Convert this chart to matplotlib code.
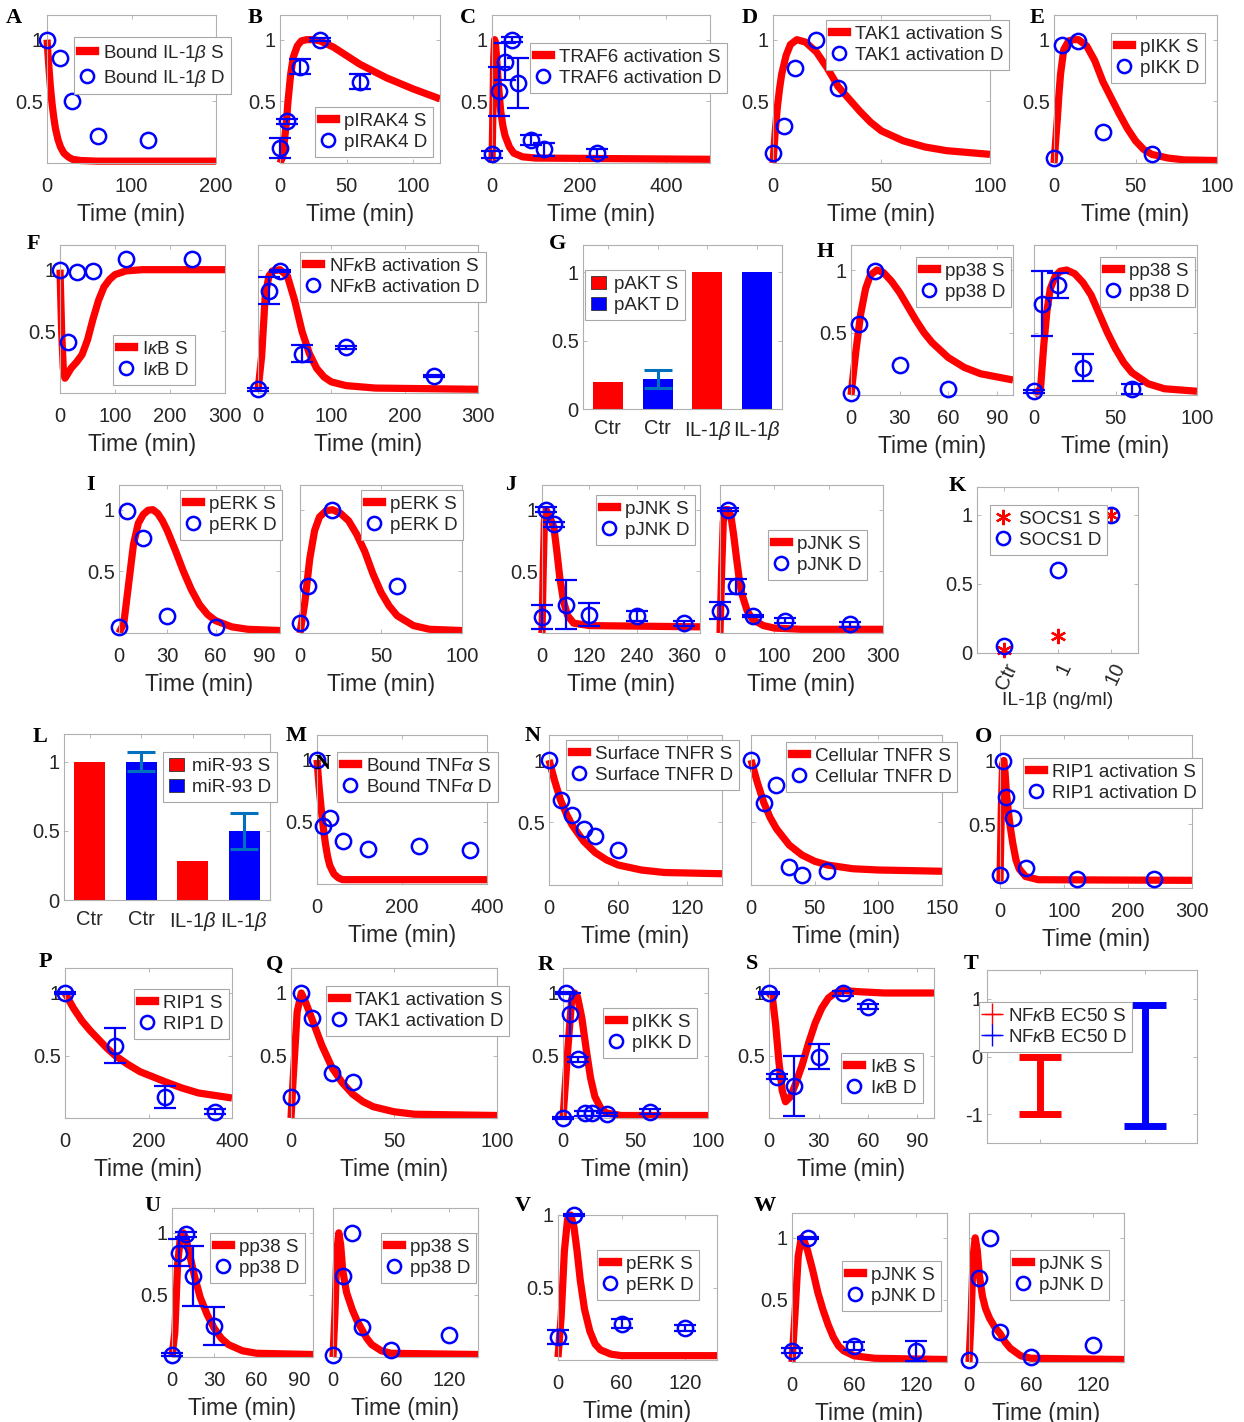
import matplotlib
matplotlib.use("Agg")
import matplotlib.pyplot as plt
from matplotlib.lines import Line2D
from matplotlib.patches import Patch

plt.rcParams['font.family'] = ['Liberation Sans', 'DejaVu Sans']
plt.rcParams['mathtext.fontset'] = 'custom'
plt.rcParams['mathtext.rm'] = 'Liberation Sans'
plt.rcParams['mathtext.it'] = 'Liberation Sans:italic'
plt.rcParams['mathtext.bf'] = 'Liberation Sans:bold'

# ---------------- data: simulations (S) and measurements (D) ----------------
# A  bound IL-1b
a_sim_t = [0, 2, 4, 6, 8, 10, 13, 16, 20, 25, 30, 40, 60, 100, 200]
a_sim_y = [1.0, 0.8, 0.62, 0.48, 0.37, 0.28, 0.19, 0.13, 0.08, 0.05, 0.03, 0.02, 0.015, 0.015, 0.015]
a_dat_t = [0, 15, 30, 60, 120]
a_dat_y = [1.0, 0.85, 0.5, 0.22, 0.19]
# B  pIRAK4
b_sim_t = [0, 2, 4, 5, 6, 8, 10, 13, 16, 20, 25, 30, 40, 50, 60, 80, 100, 120]
b_sim_y = [0.0, 0.05, 0.25, 0.36, 0.5, 0.72, 0.86, 0.95, 0.99, 1.0, 1.0, 0.99, 0.94, 0.87, 0.8, 0.69, 0.6, 0.52]
b_dat_t = [0, 5, 15, 30, 60]
b_dat_y = [0.12, 0.34, 0.78, 1.0, 0.66]
b_dat_e = [0.08, 0.02, 0.06, 0.01, 0.06]
# C  TRAF6 activation
c_sim_t = [0, 2, 4, 6, 8, 10, 15, 20, 25, 30, 40, 50, 70, 100, 500]
c_sim_y = [0.0, 0.4, 0.85, 1.0, 0.97, 0.88, 0.62, 0.42, 0.3, 0.22, 0.13, 0.08, 0.05, 0.04, 0.03]
c_dat_t = [0, 15, 30, 45, 60, 90, 120, 240]
c_dat_y = [0.07, 0.58, 0.82, 1.0, 0.65, 0.19, 0.11, 0.08]
c_dat_e = [0.03, 0.2, 0.15, 0.02, 0.2, 0.04, 0.05, 0.03]
# D  TAK1 activation (IL-1b)
d_sim_t = [0, 1, 2, 3, 4, 6, 8, 11, 15, 20, 25, 30, 35, 40, 45, 50, 60, 70, 80, 100]
d_sim_y = [0.0, 0.25, 0.45, 0.6, 0.72, 0.87, 0.96, 1.0, 0.98, 0.9, 0.77, 0.62, 0.52, 0.42, 0.33, 0.26, 0.18, 0.13, 0.1, 0.07]
d_dat_t = [0, 5, 10, 20, 30]
d_dat_y = [0.08, 0.3, 0.77, 1.0, 0.61]
# E  pIKK (IL-1b)
e_sim_t = [0, 2, 3, 4, 6, 9, 12, 15, 20, 25, 30, 35, 40, 45, 50, 55, 60, 70, 80, 100]
e_sim_y = [0.0, 0.35, 0.55, 0.72, 0.92, 0.99, 1.0, 1.0, 0.95, 0.83, 0.66, 0.53, 0.4, 0.28, 0.18, 0.11, 0.07, 0.04, 0.025, 0.02]
e_dat_t = [0, 5, 15, 30, 60]
e_dat_y = [0.04, 0.96, 0.99, 0.25, 0.07]
# F  IkB and NFkB activation
f1_sim_t = [0, 3, 6, 9, 12, 20, 30, 40, 50, 60, 70, 80, 90, 100, 120, 150, 300]
f1_sim_y = [1.0, 0.5, 0.2, 0.12, 0.14, 0.2, 0.25, 0.31, 0.43, 0.6, 0.75, 0.86, 0.92, 0.96, 0.99, 1.0, 1.0]
f1_dat_t = [0, 15, 30, 60, 120, 240]
f1_dat_y = [1.0, 0.41, 0.98, 0.99, 1.09, 1.09]
f2_sim_t = [0, 5, 10, 15, 20, 30, 40, 50, 60, 70, 80, 90, 100, 120, 160, 300]
f2_sim_y = [0.02, 0.3, 0.8, 0.95, 0.99, 1.0, 0.95, 0.75, 0.5, 0.32, 0.2, 0.13, 0.09, 0.06, 0.04, 0.03]
f2_dat_t = [0, 15, 30, 60, 120, 240]
f2_dat_y = [0.03, 0.83, 0.99, 0.32, 0.37, 0.14]
f2_dat_e = [0.01, 0.11, 0.01, 0.07, 0.01, 0.01]
# G  pAKT bars
g_labels = ['Ctr', 'Ctr', 'IL-1$\\beta$', 'IL-1$\\beta$']
g_vals = [0.2, 0.22, 1.0, 1.0]
g_err = [0.0, 0.065, 0.0, 0.0]
# H  pp38
h1_sim_t = [0, 3, 6, 9, 12, 16, 20, 25, 30, 35, 40, 45, 50, 60, 70, 80, 100]
h1_sim_y = [0.0, 0.35, 0.65, 0.85, 0.96, 1.0, 0.98, 0.91, 0.82, 0.71, 0.6, 0.5, 0.42, 0.3, 0.22, 0.17, 0.12]
h1_dat_t = [0, 5, 15, 30, 60]
h1_dat_y = [0.02, 0.57, 0.99, 0.24, 0.05]
h2_sim_t = [0, 4, 6, 8, 10, 13, 16, 20, 25, 30, 35, 40, 45, 50, 55, 60, 70, 80, 100]
h2_sim_y = [0.0, 0.05, 0.4, 0.68, 0.85, 0.95, 0.99, 1.0, 0.97, 0.9, 0.8, 0.65, 0.5, 0.37, 0.26, 0.18, 0.09, 0.05, 0.03]
h2_dat_t = [0, 5, 15, 30, 60]
h2_dat_y = [0.03, 0.73, 0.88, 0.22, 0.05]
h2_dat_e = [0.01, 0.26, 0.1, 0.11, 0.04]
# I  pERK
i1_sim_t = [0, 3, 6, 9, 12, 15, 18, 21, 24, 27, 30, 35, 40, 45, 50, 55, 60, 70, 80, 100]
i1_sim_y = [0.0, 0.08, 0.4, 0.72, 0.89, 0.96, 0.995, 1.0, 0.97, 0.91, 0.83, 0.67, 0.5, 0.35, 0.23, 0.15, 0.1, 0.05, 0.03, 0.02]
i1_dat_t = [0, 5, 15, 30, 60]
i1_dat_y = [0.05, 0.99, 0.77, 0.14, 0.05]
i2_sim_t = [0, 3, 6, 9, 12, 16, 20, 25, 30, 35, 40, 45, 50, 55, 60, 70, 80, 100]
i2_sim_y = [0.0, 0.25, 0.6, 0.83, 0.94, 0.99, 1.0, 0.97, 0.91, 0.8, 0.66, 0.48, 0.33, 0.22, 0.14, 0.06, 0.03, 0.02]
i2_dat_t = [0, 5, 20, 60]
i2_dat_y = [0.08, 0.38, 1.0, 0.38]
# J  pJNK
j1_sim_t = [0, 3, 6, 10, 15, 22, 30, 38, 45, 55, 65, 80, 120, 400]
j1_sim_y = [0.0, 0.5, 0.9, 1.0, 0.97, 0.92, 0.86, 0.65, 0.45, 0.25, 0.14, 0.08, 0.06, 0.05]
j1_dat_t = [0, 10, 30, 60, 120, 240, 360]
j1_dat_y = [0.13, 1.0, 0.88, 0.23, 0.15, 0.14, 0.08]
j1_dat_e = [0.1, 0.02, 0.02, 0.2, 0.09, 0.04, 0.02]
j2_sim_t = [0, 3, 6, 10, 15, 20, 25, 30, 35, 40, 50, 60, 80, 100, 150, 300]
j2_sim_y = [0.0, 0.5, 0.9, 1.0, 1.0, 0.95, 0.8, 0.62, 0.45, 0.32, 0.18, 0.11, 0.06, 0.04, 0.03, 0.03]
j2_dat_t = [0, 15, 30, 60, 120, 240]
j2_dat_y = [0.18, 1.0, 0.38, 0.14, 0.1, 0.07]
j2_dat_e = [0.07, 0.01, 0.06, 0.01, 0.02, 0.02]
# K  SOCS1 vs IL-1b dose
k_cats = ['Ctr', '1', '10']
k_sim = [0.02, 0.12, 1.0]
k_dat = [0.05, 0.6, 1.0]
# L  miR-93 bars
l_labels = ['Ctr', 'Ctr', 'IL-1$\\beta$', 'IL-1$\\beta$']
l_vals = [1.0, 1.0, 0.28, 0.5]
l_err = [0.0, 0.07, 0.0, 0.13]
# M  bound TNFa
m_sim_t = [0, 5, 10, 15, 20, 25, 30, 40, 50, 60, 400]
m_sim_y = [1.0, 0.78, 0.6, 0.45, 0.32, 0.22, 0.15, 0.08, 0.05, 0.035, 0.035]
m_dat_t = [0, 15, 30, 60, 120, 240, 360]
m_dat_y = [1.0, 0.47, 0.53, 0.35, 0.28, 0.31, 0.27]
# N  surface / cellular TNFR
n1_sim_t = [0, 5, 10, 15, 20, 30, 40, 50, 60, 80, 100, 150]
n1_sim_y = [1.0, 0.83, 0.68, 0.57, 0.48, 0.35, 0.26, 0.2, 0.16, 0.12, 0.1, 0.09]
n1_dat_t = [0, 10, 20, 30, 40, 60]
n1_dat_y = [1.0, 0.68, 0.56, 0.45, 0.39, 0.28]
n2_sim_t = [0, 5, 10, 15, 20, 30, 40, 50, 60, 80, 100, 150]
n2_sim_y = [1.0, 0.82, 0.66, 0.54, 0.45, 0.32, 0.24, 0.19, 0.16, 0.13, 0.12, 0.11]
n2_dat_t = [0, 10, 20, 30, 40, 60]
n2_dat_y = [1.0, 0.66, 0.8, 0.14, 0.08, 0.11]
# O  RIP1 activation
o_sim_t = [0, 2, 4, 6, 8, 10, 13, 16, 20, 25, 30, 40, 60, 300]
o_sim_y = [0.05, 0.6, 0.97, 1.0, 0.9, 0.75, 0.6, 0.48, 0.35, 0.22, 0.15, 0.09, 0.065, 0.06]
o_dat_t = [0, 5, 10, 20, 40, 120, 240]
o_dat_y = [0.1, 1.0, 0.71, 0.55, 0.16, 0.07, 0.07]
# P  RIP1
p_sim_t = [0, 20, 40, 60, 80, 100, 120, 150, 180, 210, 240, 280, 320, 360, 400]
p_sim_y = [1.0, 0.88, 0.78, 0.7, 0.63, 0.56, 0.5, 0.43, 0.37, 0.33, 0.29, 0.24, 0.2, 0.18, 0.16]
p_dat_t = [0, 120, 240, 360]
p_dat_y = [1.0, 0.58, 0.17, 0.05]
p_dat_e = [0.01, 0.14, 0.09, 0.02]
# Q  TAK1 activation (TNFa)
q_sim_t = [0, 1, 3, 5, 7, 10, 15, 20, 25, 30, 35, 40, 50, 60, 100]
q_sim_y = [0.0, 0.3, 0.85, 1.0, 0.93, 0.8, 0.58, 0.4, 0.28, 0.19, 0.13, 0.09, 0.05, 0.03, 0.02]
q_dat_t = [0, 5, 10, 20, 30]
q_dat_y = [0.17, 1.0, 0.8, 0.36, 0.29]
# R  pIKK (TNFa)
r_sim_t = [0, 3, 6, 8, 10, 13, 16, 19, 22, 26, 30, 40, 100]
r_sim_y = [0.0, 0.5, 0.95, 1.0, 0.97, 0.8, 0.55, 0.32, 0.17, 0.08, 0.04, 0.02, 0.02]
r_dat_t = [0, 2, 5, 10, 15, 20, 30, 60]
r_dat_y = [0.0, 1.0, 0.83, 0.47, 0.04, 0.04, 0.03, 0.05]
r_dat_e = [0.01, 0.01, 0.17, 0.02, 0.02, 0.02, 0.01, 0.02]
# S  IkB (TNFa)
s_sim_t = [0, 2, 4, 6, 8, 10, 13, 16, 20, 24, 28, 32, 36, 40, 45, 55, 70, 100]
s_sim_y = [1.0, 0.97, 0.75, 0.45, 0.22, 0.13, 0.17, 0.27, 0.42, 0.6, 0.76, 0.88, 0.96, 1.0, 1.02, 1.01, 1.0, 1.0]
s_dat_t = [0, 5, 15, 30, 45, 60]
s_dat_y = [1.0, 0.33, 0.26, 0.49, 1.0, 0.89]
s_dat_e = [0.01, 0.02, 0.24, 0.1, 0.02, 0.02]
# T  NFkB EC50 ranges (log scale)
t_low = [-1.0, -1.2]
t_high = [0.0, 0.9]
# U  pp38 (TNFa)
u1_sim_t = [0, 2, 4, 6, 8, 10, 13, 16, 20, 25, 30, 35, 40, 50, 60, 100]
u1_sim_y = [0.0, 0.2, 0.75, 0.97, 1.0, 0.95, 0.8, 0.65, 0.48, 0.34, 0.23, 0.15, 0.1, 0.05, 0.03, 0.02]
u1_dat_t = [0, 5, 10, 15, 30]
u1_dat_y = [0.02, 0.84, 0.99, 0.65, 0.25]
u1_dat_e = [0.01, 0.11, 0.02, 0.24, 0.15]
u2_sim_t = [0, 2, 4, 6, 8, 10, 14, 20, 25, 30, 35, 40, 50, 60, 150]
u2_sim_y = [0.0, 0.35, 0.85, 1.0, 0.9, 0.7, 0.52, 0.38, 0.29, 0.22, 0.15, 0.1, 0.05, 0.03, 0.02]
u2_dat_t = [0, 10, 20, 30, 60, 120]
u2_dat_y = [0.02, 0.65, 1.0, 0.24, 0.06, 0.18]
# V  pERK (TNFa)
v_sim_t = [0, 3, 6, 9, 12, 15, 18, 21, 25, 30, 35, 40, 50, 60, 150]
v_sim_y = [0.02, 0.3, 0.75, 0.97, 1.0, 0.92, 0.75, 0.55, 0.35, 0.2, 0.11, 0.07, 0.04, 0.03, 0.03]
v_dat_t = [0, 15, 60, 120]
v_dat_y = [0.16, 1.0, 0.25, 0.22]
v_dat_e = [0.05, 0.01, 0.03, 0.02]
# W  pJNK (TNFa)
w1_sim_t = [0, 3, 6, 9, 12, 15, 20, 25, 30, 35, 40, 45, 50, 60, 80, 150]
w1_sim_y = [0.0, 0.4, 0.85, 1.0, 0.97, 0.9, 0.74, 0.56, 0.42, 0.3, 0.2, 0.13, 0.09, 0.05, 0.03, 0.02]
w1_dat_t = [0, 15, 60, 120]
w1_dat_y = [0.09, 1.0, 0.13, 0.09]
w1_dat_e = [0.02, 0.01, 0.03, 0.08]
w2_sim_t = [0, 2, 4, 6, 8, 10, 13, 16, 20, 25, 30, 35, 40, 50, 60, 150]
w2_sim_y = [0.0, 0.35, 0.85, 1.0, 0.9, 0.7, 0.53, 0.43, 0.35, 0.28, 0.23, 0.16, 0.11, 0.05, 0.03, 0.02]
w2_dat_t = [0, 10, 20, 30, 60, 120]
w2_dat_y = [0.02, 0.68, 1.0, 0.24, 0.04, 0.14]

# ---------------- styling ----------------
W, H = 1244, 1422
RED, BLUE = '#ff0000', '#0000ff'
ERRC = '#0072bd'
SPINE = '#b0b0b0'
TXT = '#262626'
TICK_FS, LABEL_FS, LEG_FS = 14.5, 16.5, 13.5
ASTERISK = (6, 2, 0)

fig = plt.figure(figsize=(W / 100, H / 100), dpi=100)


def fx(x):
    return x / W


def fy(y):
    return 1 - y / H


def make_axes(box, xlim, ylim, xticks, yticks, xlabel='Time (min)', ylabels=True):
    x0, y0, x1, y1 = box
    ax = fig.add_axes([fx(x0), fy(y1), (x1 - x0) / W, (y1 - y0) / H])
    ax.set_xlim(xlim)
    ax.set_ylim(ylim)
    ax.set_xticks(xticks)
    ax.set_yticks(yticks)
    if ylabels:
        ax.set_yticklabels(['%g' % v for v in yticks])
    else:
        ax.set_yticklabels([])
    ax.tick_params(direction='in', length=3, width=0.6, color=SPINE,
                   labelsize=TICK_FS, labelcolor=TXT, top=True, right=True)
    ax.tick_params(axis='x', pad=10)
    ax.tick_params(axis='y', pad=3)
    for s in ax.spines.values():
        s.set_color(SPINE)
        s.set_linewidth(0.8)
    if xlabel:
        ax.set_xlabel(xlabel, fontsize=LABEL_FS, color=TXT, labelpad=5)
    return ax


def add_legend(ax, handles, labels, xy):
    leg = ax.legend(handles, labels, loc='upper left',
                    bbox_to_anchor=(fx(xy[0]), fy(xy[1])),
                    bbox_transform=fig.transFigure, fontsize=LEG_FS,
                    frameon=True, fancybox=False, framealpha=1,
                    edgecolor='#a8a8a8', borderpad=0.3, labelspacing=0.22,
                    handlelength=0.8, handletextpad=0.45, borderaxespad=0)
    leg.get_frame().set_linewidth(0.8)
    for t in leg.get_texts():
        t.set_color(TXT)
    return leg


def sd_handles():
    return [Line2D([], [], color=RED, lw=6),
            Line2D([], [], ls='none', marker='o', ms=9.5, mfc='none', mec=BLUE, mew=1.8)]


def time_panel(box, xlim, xticks, sim_t, sim_y, dat_t, dat_y, dat_e, name,
               leg_xy, ylim=(0, 1.2), ylabels=True):
    ax = make_axes(box, xlim, ylim, xticks, [0.5, 1], ylabels=ylabels)
    ax.plot(sim_t, sim_y, color=RED, lw=5.2, clip_on=False, zorder=2,
            solid_joinstyle='round', solid_capstyle='butt')
    if dat_e is not None:
        ax.errorbar(dat_t, dat_y, yerr=dat_e, fmt='none', ecolor=BLUE,
                    elinewidth=1.6, capsize=8, capthick=1.6, zorder=3,
                    clip_on=False)
    ax.plot(dat_t, dat_y, ls='none', marker='o', ms=11, mfc='none', mec=BLUE,
            mew=1.8, clip_on=False, zorder=4)
    add_legend(ax, sd_handles(), [name + ' S', name + ' D'], leg_xy)
    return ax


def panel_letter(ch, x, y):
    fig.text(fx(x), fy(y), ch, fontfamily='Liberation Serif', fontweight='bold',
             fontsize=16, ha='center', va='center', color='black')


# ---------------- row 1 ----------------
time_panel((47, 15, 216, 163), (0, 200), [0, 100, 200], a_sim_t, a_sim_y,
           a_dat_t, a_dat_y, None, 'Bound IL-1$\\beta$', (74, 37))
time_panel((280, 15, 440, 163), (0, 120), [0, 50, 100], b_sim_t, b_sim_y,
           b_dat_t, b_dat_y, b_dat_e, 'pIRAK4', (315, 107))
time_panel((492, 15, 710, 163), (0, 500), [0, 200, 400], c_sim_t, c_sim_y,
           c_dat_t, c_dat_y, c_dat_e, 'TRAF6 activation', (530, 43))
time_panel((773, 15, 990, 163), (0, 100), [0, 50, 100], d_sim_t, d_sim_y,
           d_dat_t, d_dat_y, None, 'TAK1 activation', (826, 20))
time_panel((1054, 15, 1217, 163), (0, 100), [0, 50, 100], e_sim_t, e_sim_y,
           e_dat_t, e_dat_y, None, 'pIKK', (1111, 33))

# ---------------- row 2 ----------------
time_panel((60, 245, 225, 393), (0, 300), [0, 100, 200, 300], f1_sim_t, f1_sim_y,
           f1_dat_t, f1_dat_y, None, 'I$\\kappa$B', (113, 335))
time_panel((258, 245, 478, 393), (0, 300), [0, 100, 200, 300], f2_sim_t, f2_sim_y,
           f2_dat_t, f2_dat_y, f2_dat_e, 'NF$\\kappa$B activation', (300, 252),
           ylabels=False)

ax = make_axes((583, 245, 782, 409), (0.5, 4.5), (0, 1.2), [1, 2, 3, 4], [0, 0.5, 1],
               xlabel=None)
g_pos = [1, 2, 3, 4]
ax.bar(g_pos, g_vals, width=0.6, color=[RED, BLUE, RED, BLUE], zorder=2)
ax.errorbar(g_pos[1], g_vals[1], yerr=g_err[1], fmt='none', ecolor=ERRC,
            elinewidth=2.2, capsize=10, capthick=2.2, zorder=3)
ax.set_xticklabels(g_labels)
ax.tick_params(axis='x', pad=7)
add_legend(ax, [Patch(facecolor=RED, edgecolor='#333333', lw=0.6),
                Patch(facecolor=BLUE, edgecolor='#333333', lw=0.6)],
           ['pAKT S', 'pAKT D'], (585, 270))

time_panel((851, 245, 1013, 395), (0, 100), [0, 30, 60, 90], h1_sim_t, h1_sim_y,
           h1_dat_t, h1_dat_y, None, 'pp38', (916, 257))
time_panel((1034, 245, 1197, 395), (0, 100), [0, 50, 100], h2_sim_t, h2_sim_y,
           h2_dat_t, h2_dat_y, h2_dat_e, 'pp38', (1100, 257), ylabels=False)

# ---------------- row 3 ----------------
time_panel((119, 485, 280, 633), (0, 100), [0, 30, 60, 90], i1_sim_t, i1_sim_y,
           i1_dat_t, i1_dat_y, None, 'pERK', (180, 490))
time_panel((300, 485, 462, 633), (0, 100), [0, 50, 100], i2_sim_t, i2_sim_y,
           i2_dat_t, i2_dat_y, None, 'pERK', (361, 490), ylabels=False)
time_panel((542, 485, 700, 633), (0, 400), [0, 120, 240, 360], j1_sim_t, j1_sim_y,
           j1_dat_t, j1_dat_y, j1_dat_e, 'pJNK', (596, 495))
time_panel((720, 485, 883, 633), (0, 300), [0, 100, 200, 300], j2_sim_t, j2_sim_y,
           j2_dat_t, j2_dat_y, j2_dat_e, 'pJNK', (768, 530), ylabels=False)

ax = make_axes((977, 487, 1138, 653), (0.5, 3.5), (0, 1.2), [1, 2, 3], [0, 0.5, 1],
               xlabel=None)
k_pos = [1, 2, 3]
ax.plot(k_pos, k_sim, ls='none', marker=ASTERISK, ms=11, color=RED, mec=RED,
        mew=1.6, clip_on=False, zorder=3)
ax.plot(k_pos, k_dat, ls='none', marker='o', ms=11, mfc='none', mec=BLUE,
        mew=1.8, clip_on=False, zorder=4)
ax.set_xticklabels(k_cats, rotation=65, ha='right', rotation_mode='anchor')
ax.tick_params(axis='x', pad=5)
ax.set_xlabel('IL-1β (ng/ml)', fontsize=14, color=TXT, labelpad=0)
add_legend(ax, [Line2D([], [], ls='none', marker=ASTERISK, ms=11, color=RED, mew=1.6),
                Line2D([], [], ls='none', marker='o', ms=9.5, mfc='none',
                       mec=BLUE, mew=1.8)],
           ['SOCS1 S', 'SOCS1 D'], (990, 505))

# ---------------- row 4 ----------------
ax = make_axes((64, 734, 270, 900), (0.5, 4.5), (0, 1.2), [1, 2, 3, 4], [0, 0.5, 1],
               xlabel=None)
l_pos = [1, 2, 3, 4]
ax.bar(l_pos, l_vals, width=0.6, color=[RED, BLUE, RED, BLUE], zorder=2)
ax.errorbar([l_pos[1], l_pos[3]], [l_vals[1], l_vals[3]], yerr=[l_err[1], l_err[3]],
            fmt='none', ecolor=ERRC, elinewidth=2.2, capsize=10, capthick=2.2, zorder=3)
ax.set_xticklabels(l_labels)
ax.tick_params(axis='x', pad=7)
add_legend(ax, [Patch(facecolor=RED, edgecolor='#333333', lw=0.6),
                Patch(facecolor=BLUE, edgecolor='#333333', lw=0.6)],
           ['miR-93 S', 'miR-93 D'], (163, 752))

time_panel((317, 735, 487, 884), (0, 400), [0, 200, 400], m_sim_t, m_sim_y,
           m_dat_t, m_dat_y, None, 'Bound TNF$\\alpha$', (337, 752))
time_panel((549, 735, 722, 885), (0, 150), [0, 60, 120], n1_sim_t, n1_sim_y,
           n1_dat_t, n1_dat_y, None, 'Surface TNFR', (566, 740))
time_panel((751, 735, 942, 885), (0, 150), [0, 50, 100, 150], n2_sim_t, n2_sim_y,
           n2_dat_t, n2_dat_y, None, 'Cellular TNFR', (786, 742), ylabels=False)
time_panel((1000, 735, 1192, 888), (0, 300), [0, 100, 200, 300], o_sim_t, o_sim_y,
           o_dat_t, o_dat_y, None, 'RIP1 activation', (1023, 758))

# ---------------- row 5 ----------------
time_panel((65, 968, 232, 1118), (0, 400), [0, 200, 400], p_sim_t, p_sim_y,
           p_dat_t, p_dat_y, p_dat_e, 'RIP1', (134, 989))
time_panel((291, 968, 497, 1118), (0, 100), [0, 50, 100], q_sim_t, q_sim_y,
           q_dat_t, q_dat_y, None, 'TAK1 activation', (326, 986))
time_panel((563, 968, 708, 1118), (0, 100), [0, 50, 100], r_sim_t, r_sim_y,
           r_dat_t, r_dat_y, r_dat_e, 'pIKK', (603, 1008))
time_panel((769, 968, 934, 1118), (0, 100), [0, 30, 60, 90], s_sim_t, s_sim_y,
           s_dat_t, s_dat_y, s_dat_e, 'I$\\kappa$B', (841, 1053))

ax = make_axes((987, 970, 1197, 1143), (0.5, 2.5), (-1.5, 1.5), [1, 2], [-1, 0, 1],
               xlabel=None)
ax.set_xticklabels([])
t_colors = [RED, BLUE]
for i, col in enumerate(t_colors):
    mid = (t_low[i] + t_high[i]) / 2
    half = (t_high[i] - t_low[i]) / 2
    ax.errorbar([i + 1], [mid], yerr=[half], fmt='none', ecolor=col,
                elinewidth=5, capsize=15, capthick=5, zorder=3)
add_legend(ax, [Line2D([], [], color=RED, lw=1, marker='+', ms=16, mew=1),
                Line2D([], [], color=BLUE, lw=1, marker='+', ms=16, mew=1)],
           ['NF$\\kappa$B EC50 S', 'NF$\\kappa$B EC50 D'], (979, 1002))

# ---------------- row 6 ----------------
time_panel((172, 1208, 313, 1357), (0, 100), [0, 30, 60, 90], u1_sim_t, u1_sim_y,
           u1_dat_t, u1_dat_y, u1_dat_e, 'pp38', (210, 1233))
time_panel((333, 1208, 478, 1357), (0, 150), [0, 60, 120], u2_sim_t, u2_sim_y,
           u2_dat_t, u2_dat_y, None, 'pp38', (381, 1233), ylabels=False)
time_panel((558, 1215, 717, 1360), (0, 150), [0, 60, 120], v_sim_t, v_sim_y,
           v_dat_t, v_dat_y, v_dat_e, 'pERK', (597, 1250), ylim=(0, 1.0))
time_panel((792, 1213, 947, 1362), (0, 150), [0, 60, 120], w1_sim_t, w1_sim_y,
           w1_dat_t, w1_dat_y, w1_dat_e, 'pJNK', (842, 1261))
time_panel((969, 1213, 1124, 1362), (0, 150), [0, 60, 120], w2_sim_t, w2_sim_y,
           w2_dat_t, w2_dat_y, None, 'pJNK', (1010, 1250), ylabels=False)

# ---------------- panel letters ----------------
for ch, x, y in [('A', 14, 18), ('B', 255, 18), ('C', 468, 18), ('D', 750, 18),
                 ('E', 1037, 18), ('F', 33, 244), ('G', 558, 244), ('H', 825, 252),
                 ('I', 91, 485), ('J', 511, 485), ('K', 957, 486), ('L', 40, 737),
                 ('M', 296, 736), ('N', 533, 736), ('O', 984, 737), ('P', 45, 962),
                 ('Q', 275, 965), ('R', 546, 965), ('S', 752, 964), ('T', 971, 964),
                 ('U', 152, 1206), ('V', 523, 1206), ('W', 765, 1206),
                 ('N', 323, 764)]:
    panel_letter(ch, x, y)

fig.savefig('out.png', dpi=100, facecolor='white')
